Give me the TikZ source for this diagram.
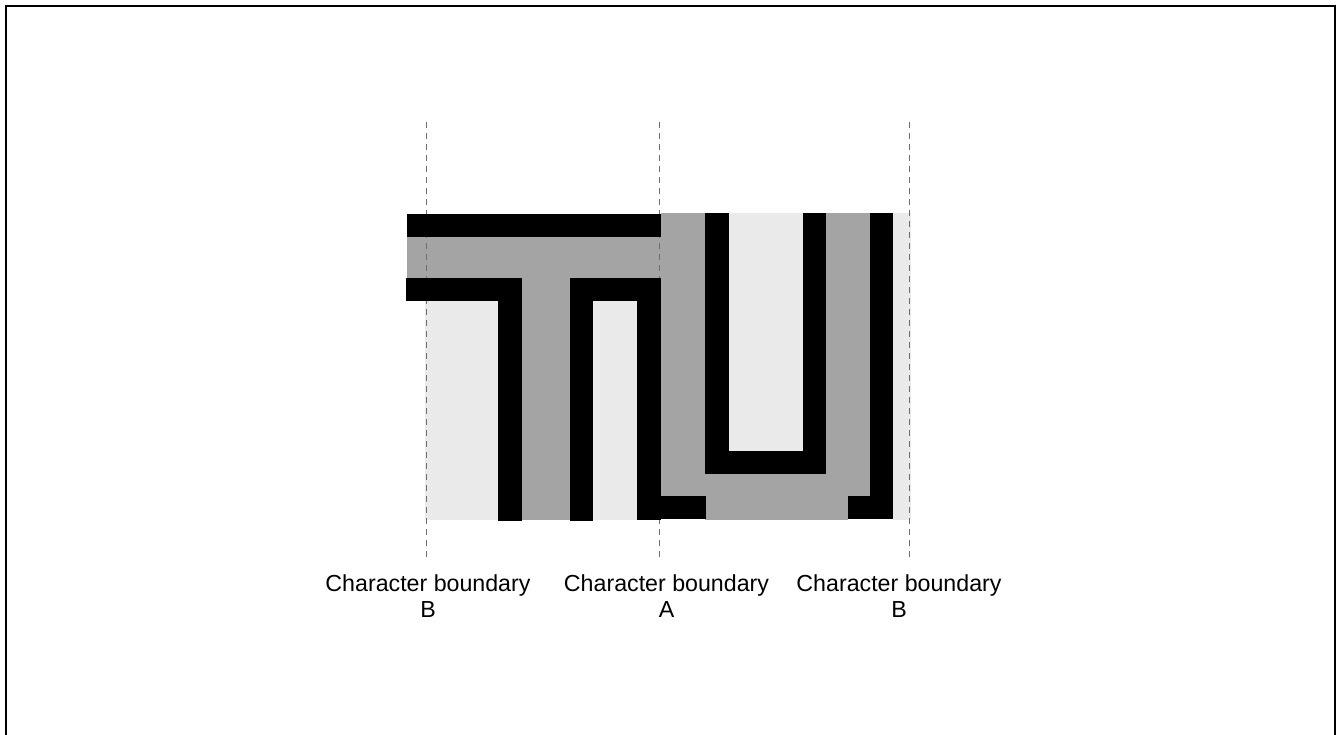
\documentclass[tikz,border=0pt]{standalone}
\usepackage{fontspec}
\setmainfont{Liberation Sans}
\definecolor{midgray}{HTML}{A4A4A4}
\definecolor{lightgray2}{HTML}{EAEAEA}
\definecolor{dashgray}{HTML}{6E6E6E}
\tikzset{
  lightfill/.style={fill=lightgray2},
  grayfill/.style={fill=midgray},
  inkfill/.style={fill=black},
  boundary/.style={draw=dashgray,line width=1pt,dash pattern=on 6pt off 5pt},
  blabel/.style={align=center,anchor=base,inner sep=0pt,font=\fontsize{23.2}{25.7}\selectfont}
}
\begin{document}
\begin{tikzpicture}[x=1pt,y=-1pt]
\useasboundingbox (0,0) rectangle (1338,734);
\begin{scope}
\clip (0,0) rectangle (1338,734);
\draw[line width=2pt] (6,5.5) rectangle (1335,760);
\end{scope}
% light regions
\fill[lightfill] (425,300.7) rectangle (498,520);
\fill[lightfill] (593,300.7) rectangle (637,520);
\fill[lightfill] (729,212.7) rectangle (803,451);
\fill[lightfill] (893,212.7) rectangle (911,520);
% gray regions
\fill[grayfill] (407,236.7) rectangle (661,278);
\fill[grayfill] (522,278) rectangle (570,520);
\fill[grayfill] (661,212.7) rectangle (705,496);
\fill[grayfill] (826,212.7) rectangle (870,496);
\fill[grayfill] (661,474) rectangle (870,496);
\fill[grayfill] (705,496) rectangle (848,520);
% boundaries
\coordinate (b1t) at (426,122); \coordinate (b1b) at (426,560);
\coordinate (b2t) at (659,122); \coordinate (b2b) at (659,560);
\coordinate (b3t) at (909,122); \coordinate (b3b) at (909,560);
\draw[boundary] (b1t) -- (b1b);
\draw[boundary] (b2t) -- (b2b);
\draw[boundary] (b3t) -- (b3b);
% black strokes of T
\fill[inkfill] (407,214) rectangle (661,236.7);
\fill[inkfill] (406,278) rectangle (522,300.7);
\fill[inkfill] (498,278) rectangle (522,520.7);
\fill[inkfill] (570,278) rectangle (661,300.7);
\fill[inkfill] (570,278) rectangle (593,520.7);
\fill[inkfill] (637,278) rectangle (661,520);
% black strokes of U
\fill[inkfill] (637,496) rectangle (706,519.3);
\fill[inkfill] (705,212.7) rectangle (729,474);
\fill[inkfill] (803,212.7) rectangle (826,474);
\fill[inkfill] (705,451) rectangle (826,474);
\fill[inkfill] (870,212.7) rectangle (893,519.3);
\fill[inkfill] (848,496) rectangle (893,519.3);
% labels
\node[blabel] (lb1) at (428,617.3) {Character boundary\\B};
\node[blabel] (la) at (666.5,617.3) {Character boundary\\A};
\node[blabel] (lb2) at (899,617.3) {Character boundary\\B};
\end{tikzpicture}
\end{document}
